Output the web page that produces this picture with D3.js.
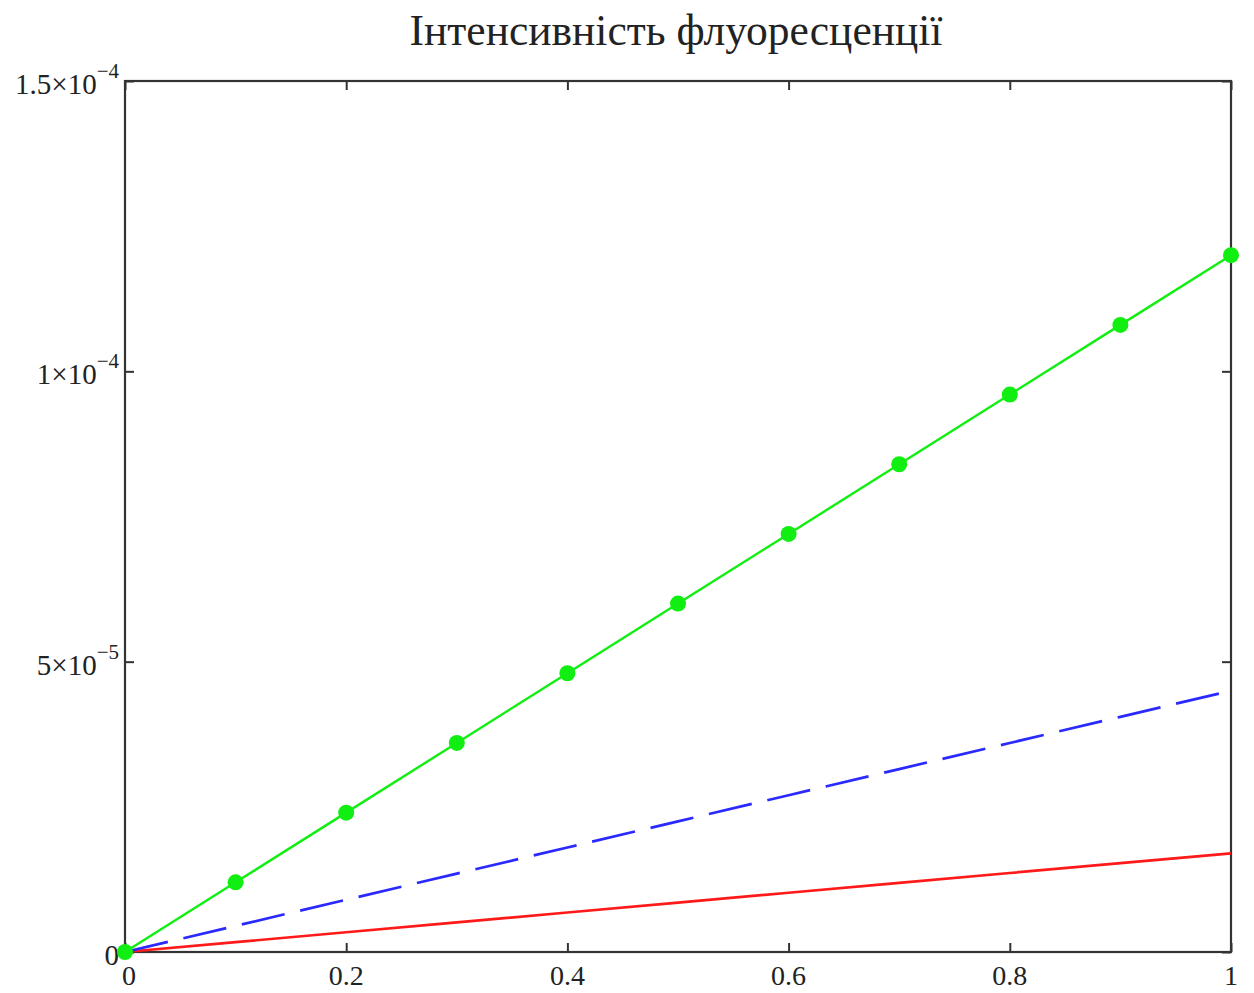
<!DOCTYPE html>
<html>
<head>
<meta charset="utf-8">
<script src="https://cdn.jsdelivr.net/npm/d3@7"></script>
<style>
  html, body { margin: 0; padding: 0; background: #fff; }
  svg { display: block; }
  text { font-family: "Liberation Serif", "DejaVu Serif", serif; fill: #222; }
</style>
</head>
<body>
<svg id="chart" width="1254" height="993"></svg>
<script>
// ---- data ----
const titleText = "Інтенсивність флуоресценції";
const xValues = [0, 0.1, 0.2, 0.3, 0.4, 0.5, 0.6, 0.7, 0.8, 0.9, 1.0];
const greenSeries = [0, 1.2e-5, 2.4e-5, 3.6e-5, 4.8e-5, 6.0e-5, 7.2e-5, 8.4e-5, 9.6e-5, 1.08e-4, 1.2e-4];
const blueSeries = [0, 0.45e-5, 0.9e-5, 1.35e-5, 1.8e-5, 2.25e-5, 2.7e-5, 3.15e-5, 3.6e-5, 4.05e-5, 4.5e-5];
const redSeries = [0, 0.17e-5, 0.34e-5, 0.51e-5, 0.68e-5, 0.85e-5, 1.02e-5, 1.19e-5, 1.36e-5, 1.53e-5, 1.7e-5];
const xTicks = [0, 0.2, 0.4, 0.6, 0.8, 1];
const xTickLabels = ["0", "0.2", "0.4", "0.6", "0.8", "1"];
const yTicks = [0, 5e-5, 1e-4, 1.5e-4];
const yTickMantissa = ["0", "5×10", "1×10", "1.5×10"];
const yTickExponent = ["", "−5", "−4", "−4"];

// ---- layout ----
const L = 125, R = 1231, T = 81, B = 952;
const svg = d3.select("#chart");
const x = d3.scaleLinear().domain([0, 1]).range([L, R]);
const y = d3.scaleLinear().domain([0, 1.5e-4]).range([B, T]);

// title
svg.append("text")
  .attr("x", (L + R) / 2 - 2).attr("y", 45)
  .attr("text-anchor", "middle")
  .attr("font-size", 43.5)
  .text(titleText);

// axes with inward ticks on all four sides
const tickLen = 9;
const axisColor = "#333";
function styleAxis(g) {
  g.select(".domain").remove();
  g.selectAll(".tick line").attr("stroke", axisColor).attr("stroke-width", 2);
  g.selectAll(".tick text").remove();
}
svg.append("g").attr("transform", `translate(0,${B})`)
  .call(d3.axisBottom(x).tickValues(xTicks).tickSize(-tickLen)).call(styleAxis);
svg.append("g").attr("transform", `translate(0,${T})`)
  .call(d3.axisTop(x).tickValues(xTicks).tickSize(-tickLen)).call(styleAxis);
svg.append("g").attr("transform", `translate(${L},0)`)
  .call(d3.axisLeft(y).tickValues(yTicks).tickSize(-tickLen)).call(styleAxis);
svg.append("g").attr("transform", `translate(${R},0)`)
  .call(d3.axisRight(y).tickValues(yTicks).tickSize(-tickLen)).call(styleAxis);

// frame
svg.append("rect")
  .attr("x", L).attr("y", T).attr("width", R - L).attr("height", B - T)
  .attr("fill", "none").attr("stroke", axisColor).attr("stroke-width", 2.2);

// x tick labels
svg.append("g").selectAll("text").data(xTicks).join("text")
  .attr("x", d => x(d) + (d === 0 ? 4 : 0))
  .attr("y", B + 33)
  .attr("text-anchor", "middle")
  .attr("font-size", 28)
  .text((d, i) => xTickLabels[i]);

// y tick labels with superscripts
const yl = svg.append("g").selectAll("text").data(yTicks).join("text")
  .attr("x", L - 6)
  .attr("y", d => y(d) + 13)
  .attr("text-anchor", "end")
  .attr("font-size", 29);
yl.append("tspan").text((d, i) => yTickMantissa[i]);
yl.append("tspan")
  .attr("dy", (d, i) => yTickExponent[i] ? -16 : 0)
  .attr("font-size", 21)
  .text((d, i) => yTickExponent[i]);

// lines
const pts = s => xValues.map((v, i) => [v, s[i]]);
const line = d3.line().x(d => x(d[0])).y(d => y(d[1]));

svg.append("path").datum(pts(redSeries))
  .attr("d", line).attr("fill", "none")
  .attr("stroke", "#ff1a1a").attr("stroke-width", 2.7);

svg.append("path").datum(pts(blueSeries))
  .attr("d", line).attr("fill", "none")
  .attr("stroke", "#2a2aff").attr("stroke-width", 2.7)
  .attr("stroke-dasharray", "44,16");

svg.append("path").datum(pts(greenSeries))
  .attr("d", line).attr("fill", "none")
  .attr("stroke", "#11ee11").attr("stroke-width", 2.4);

svg.append("g").selectAll("circle").data(pts(greenSeries)).join("circle")
  .attr("cx", d => x(d[0])).attr("cy", d => y(d[1]))
  .attr("r", 8).attr("fill", "#11ee11");
</script>
</body>
</html>
